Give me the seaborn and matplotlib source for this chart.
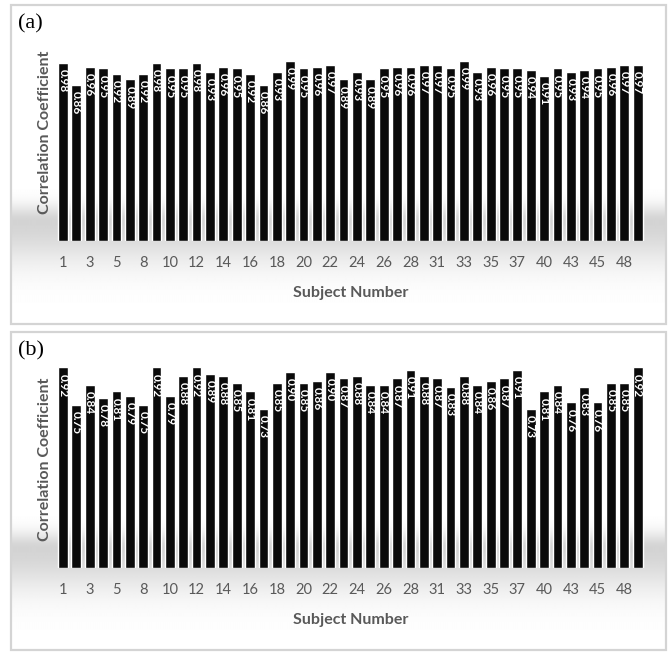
import matplotlib
matplotlib.use('Agg')
import matplotlib.pyplot as plt
import seaborn as sns
import pandas as pd
import numpy as np
from matplotlib.patches import Rectangle

# subject numbers (some subjects are missing from the study)
subjects = [1, 2, 3, 4, 5, 6, 8, 9, 10, 11, 12, 13, 14, 15, 16, 17, 18, 19, 20, 21,
            22, 23, 24, 25, 26, 27, 28, 30, 31, 32, 33, 34, 35, 36, 37, 39, 40, 41,
            43, 44, 45, 46, 48, 49]

corr_a = [0.98, 0.86, 0.96, 0.95, 0.92, 0.89, 0.92, 0.98, 0.95, 0.95,
          0.98, 0.93, 0.96, 0.95, 0.92, 0.86, 0.93, 0.99, 0.95, 0.96,
          0.97, 0.89, 0.93, 0.89, 0.95, 0.96, 0.96, 0.97, 0.97, 0.95,
          0.99, 0.93, 0.96, 0.95, 0.95, 0.94, 0.91, 0.95, 0.93, 0.94,
          0.95, 0.96, 0.97, 0.97]

corr_b = [0.92, 0.75, 0.84, 0.78, 0.81, 0.79, 0.75, 0.92, 0.79, 0.88,
          0.92, 0.89, 0.88, 0.85, 0.81, 0.73, 0.85, 0.90, 0.85, 0.86,
          0.90, 0.87, 0.88, 0.84, 0.84, 0.87, 0.91, 0.88, 0.87, 0.83,
          0.88, 0.84, 0.86, 0.87, 0.91, 0.73, 0.81, 0.84, 0.76, 0.83,
          0.76, 0.85, 0.85, 0.92]

panel_names = ['(a)', '(b)']
y_max = [1.2, 1.0]

sns.set_theme(style='white')
plt.rcParams['font.family'] = ['Lato', 'DejaVu Sans']

W, H = 669, 652
fig = plt.figure(figsize=(W / 100, H / 100), dpi=100)
fig.patch.set_facecolor('white')

# pixel layout: (frame top, frame bottom, plot top, plot bottom)
layout = [(5, 324, 23, 241), (332, 650, 350, 568)]
ax_left, ax_right = 53.6, 647
frame_left, frame_right = 11, 666
gray = '#595959'

for i, (vals, name) in enumerate(zip([corr_a, corr_b], panel_names)):
    ft, fb, pt, pb = layout[i]

    # soft grey band behind the bar bases (Excel style background)
    bg = fig.add_axes([frame_left / W, 1 - fb / H, (frame_right - frame_left) / W, (fb - ft) / H])
    ys = np.arange(ft, fb)
    peak = pb - 20
    prof = np.where(ys < peak,
                    0.17 * np.exp(-((ys - peak) / 16.0) ** 2),
                    0.17 * np.exp(-((ys - peak) / 42.0) ** 2))
    img = np.tile((1 - prof)[:, None], (1, 50))
    bg.imshow(img, cmap='gray', vmin=0, vmax=1, aspect='auto', interpolation='bilinear')
    bg.set_axis_off()
    fig.patches.append(Rectangle((frame_left / W, 1 - fb / H), (frame_right - frame_left) / W,
                                 (fb - ft) / H, transform=fig.transFigure, fill=False,
                                 edgecolor='#d4d4d4', linewidth=1.6, zorder=5))

    ax = fig.add_axes([ax_left / W, 1 - pb / H, (ax_right - ax_left) / W, (pb - pt) / H])
    ax.patch.set_alpha(0)
    df = pd.DataFrame({'subject': [str(s) for s in subjects], 'corr': vals})
    sns.barplot(data=df, x='subject', y='corr', color='#0a0a0a', width=0.73,
                saturation=1, ax=ax, zorder=3)
    ax.set_ylim(0, y_max[i])
    ax.set_xlim(-0.7, len(subjects) - 0.3)
    sns.despine(ax=ax, left=True, bottom=True)
    ax.set_yticks([])

    labels = [str(s) if k % 2 == 0 else '' for k, s in enumerate(subjects)]
    ax.set_xticks(range(len(subjects)))
    ax.set_xticklabels(labels, fontsize=10.5, color=gray)
    ax.tick_params(axis='x', length=0, pad=11)

    for k, v in enumerate(vals):
        ax.annotate(f'{v:.2f}', (k, v), xytext=(0, -4.5), textcoords='offset points',
                    rotation=270, ha='center', va='top', color='white',
                    fontsize=8.5, fontweight='bold', zorder=4)

    ax.set_xlabel('Subject Number', fontsize=11.5, fontweight='bold', color=gray)
    ax.xaxis.set_label_coords(0.5, -52 / (pb - pt))
    ax.xaxis.label.set_va('center')
    ax.set_ylabel('Correlation Coefficient', fontsize=11.5, fontweight='bold', color=gray)
    ax.yaxis.set_label_coords(-(ax_left - 45) / (ax_right - ax_left), 0.5)
    ax.yaxis.label.set_va('center')

    fig.text(18 / W, 1 - (ft + 19) / H, name, fontsize=16, family='Liberation Serif',
             va='center', ha='left', color='black')

fig.savefig('out.png', dpi=100)
